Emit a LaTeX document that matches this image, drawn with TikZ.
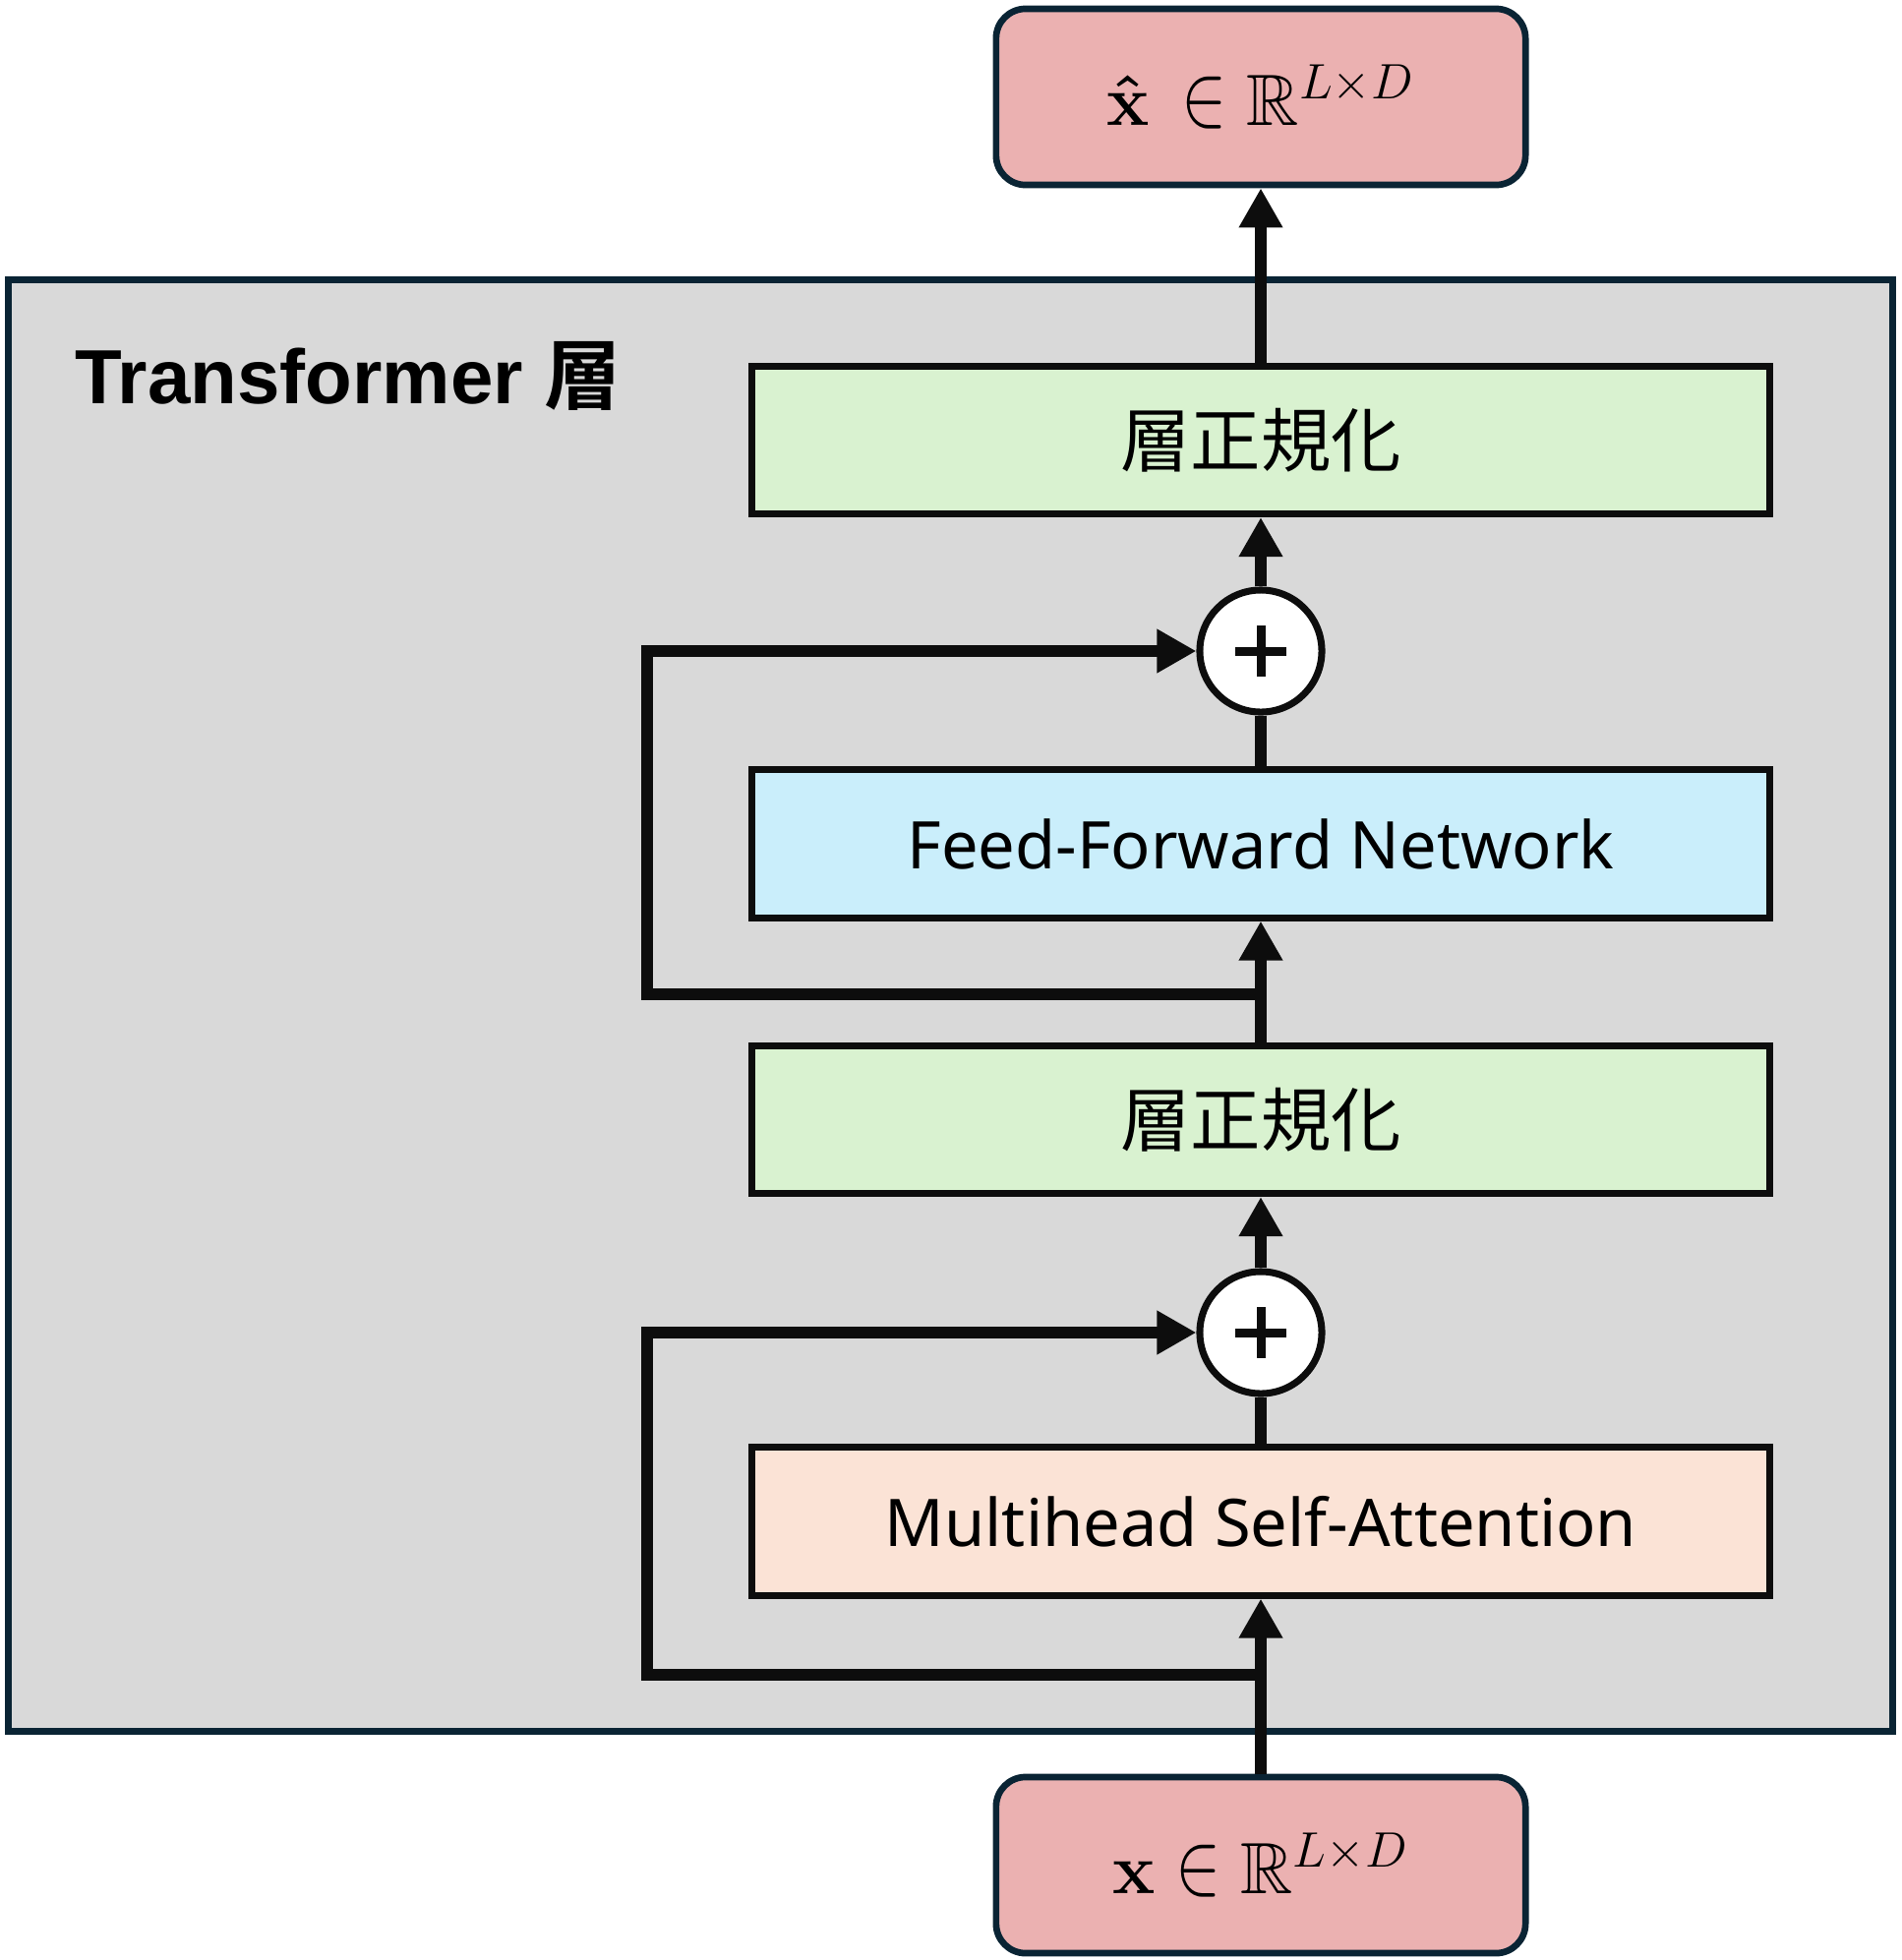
\documentclass[tikz,border=0pt]{standalone}
\usepackage{amsmath,amssymb}
\usepackage[no-math]{fontspec}
\setmainfont{Noto Sans}
\newfontfamily\cjk{Noto Sans CJK JP}
\newfontfamily\titlefont{Liberation Sans}
\newfontfamily\titlecjk{Noto Sans CJK JP}[BoldFont={* Bold}]
\usetikzlibrary{arrows.meta,calc}

\definecolor{ioPink}{HTML}{EBB1B1}
\definecolor{edgeNavy}{HTML}{0A2434}
\definecolor{layerGray}{HTML}{D9D9D9}
\definecolor{normGreen}{HTML}{D9F2D0}
\definecolor{ffnBlue}{HTML}{CAEEFB}
\definecolor{attnPeach}{HTML}{FBE3D6}
\definecolor{inkBlack}{HTML}{0D0D0D}

\newcommand{\tallin}{\mathrel{\scalebox{0.95}[1.25]{$\in$}}}
\newcommand{\shapeLD}{\mathbb{R}^{\text{\fontsize{19}{22}\selectfont$\scriptstyle L\times D$}}}

\tikzset{
  block/.style={draw=inkBlack, line width=2pt, minimum width=10.35cm, minimum height=1.5cm, inner sep=0pt},
  iobox/.style={draw=edgeNavy, fill=ioPink, line width=1.9pt, rounded corners=0.3cm, minimum width=5.38cm, minimum height=1.79cm, inner sep=0pt},
  addnode/.style={circle, draw=inkBlack, fill=white, line width=2pt, minimum size=1.24cm, inner sep=0pt},
  wire/.style={draw=inkBlack, line width=3.4pt, line join=miter},
  flow/.style={wire, -{Triangle[width=0.42cm,length=0.4cm]}},
  plus/.style={draw=inkBlack, line width=0.09cm}
}

\begin{document}
\begin{tikzpicture}[x=0.01cm, y=-0.01cm]
		%%%%% FRAME %%%%%
		\useasboundingbox (0,0) rectangle (1934,1993);
		
		\draw[line width=2pt, draw=edgeNavy, fill=layerGray] (8.5,284.5) rectangle (1924.5,1760.5);
		\node[anchor=base west, font=\fontsize{22.2}{27}\selectfont\bfseries] (title) at (64,410) {\titlefont Transformer \titlecjk 層};
		
		%%%%% BLOCKS %%%%%
		\node[iobox] (out) at (1282,98.5) {\fontsize{21}{25}\selectfont $\boldsymbol{\hat{\mathbf{x}}}\,\tallin\shapeLD$};
		\node[block, fill=normGreen] (ln1) at (1282,447.5) {\fontsize{20.3}{24}\selectfont\cjk 層正規化};
		\node[addnode] (add1) at (1282,662) {};
		\node[block, fill=ffnBlue] (ffn) at (1282,858) {\fontsize{19}{23}\selectfont Feed-Forward Network};
		\node[block, fill=normGreen] (ln2) at (1282,1138.5) {\fontsize{20.3}{24}\selectfont\cjk 層正規化};
		\node[addnode] (add2) at (1282,1355) {};
		\node[block, fill=attnPeach] (mhsa) at (1282,1547) {\fontsize{19}{23}\selectfont Multihead Self-Attention};
		\node[iobox] (in) at (1282,1896.5) {\fontsize{21}{25}\selectfont $\mathbf{x}\tallin\shapeLD$};
		
		\foreach \a in {add1,add2}{
			\draw[plus] ($(\a.center)+(-26,0)$) -- ++(52,0);
			\draw[plus] ($(\a.center)+(0,-26)$) -- ++(0,52);
		}
		
		%%%%% CONNECTORS %%%%%
		\draw[flow] (in.north) -- (mhsa.south);
		\draw[wire] (mhsa.north) -- (add2.south);
		\draw[flow] (add2.north) -- (ln2.south);
		\draw[flow] (ln2.north) -- (ffn.south);
		\draw[wire] (ffn.north) -- (add1.south);
		\draw[flow] (add1.north) -- (ln1.south);
		\draw[flow] (ln1.north) -- (out.south);
		
		\coordinate (skipA) at (1282,1703);
		\coordinate (skipAleft) at (658,1703);
		\draw[flow] (skipA) -- (skipAleft) |- (add2.west);
		
		\coordinate (skipB) at (1282,1011);
		\coordinate (skipBleft) at (658,1011);
		\draw[flow] (skipB) -- (skipBleft) |- (add1.west);
		
		%%%%% END %%%%%
	\end{tikzpicture}
\end{document}
